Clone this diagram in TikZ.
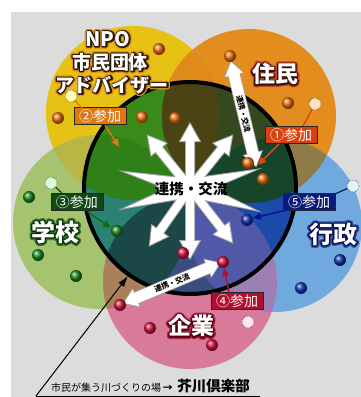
\documentclass[tikz,border=0pt]{standalone}
\usepackage{fontspec}
\newfontfamily\jp{Noto Sans CJK JP}
\usetikzlibrary{calc,arrows.meta}
\definecolor{bgray}{HTML}{DCDCDC}
\definecolor{cY}{HTML}{E6C214}
\definecolor{cO}{HTML}{E38D1F}
\definecolor{cG}{HTML}{A6C46F}
\definecolor{cB}{HTML}{70A9DD}
\definecolor{cP}{HTML}{D87B9B}
\definecolor{cYO}{HTML}{DF8A1A}
\definecolor{cOB}{HTML}{8E7B47}
\definecolor{cBP}{HTML}{9E7FB5}
\definecolor{cPG}{HTML}{A9805A}
\definecolor{cGY}{HTML}{B9B646}
\definecolor{iBase}{HTML}{1D4A44}
\definecolor{iY}{HTML}{3A8A1A}
\definecolor{iO}{HTML}{36491E}
\definecolor{iG}{HTML}{2A8272}
\definecolor{iB}{HTML}{1A4AAA}
\definecolor{iP}{HTML}{3D4C80}
\definecolor{iYO}{HTML}{4A4314}
\definecolor{iYG}{HTML}{2F8018}
\definecolor{iOB}{HTML}{17452A}
\definecolor{iBP}{HTML}{5059A8}
\definecolor{iPG}{HTML}{1C4747}
\definecolor{dotO}{HTML}{F07010}
\definecolor{dotG}{HTML}{1E8A1E}
\definecolor{dotB}{HTML}{1434B4}
\definecolor{dotR}{HTML}{D8103C}
\definecolor{tagO}{HTML}{E07812}
\definecolor{tagR}{HTML}{D8400E}
\definecolor{tagG}{HTML}{0F4A14}
\definecolor{tagB}{HTML}{0A1A7A}
\definecolor{tagP}{HTML}{B0102E}
\definecolor{glO}{HTML}{E8901A}
\definecolor{ouO}{HTML}{2A1A08}
\definecolor{glR}{HTML}{D0401A}
\definecolor{ouR}{HTML}{301008}
\definecolor{glG}{HTML}{3A7A2A}
\definecolor{ouG}{HTML}{0A300A}
\definecolor{glB}{HTML}{3050A0}
\definecolor{ouB}{HTML}{0A0A50}
\definecolor{glP}{HTML}{B02040}
\definecolor{ouP}{HTML}{500010}

% text drawn with its outline stroked (PDF text render mode 2)
\newcommand\strk[2]{\special{pdf:literal direct 1 j #1 w 2 Tr}#2\special{pdf:literal direct 0 Tr 1 w}}

\newcommand\glowtext[6]{%
  \node[text=#3,font={#5}] at (#1) {\strk{5.2}{#6}};%
  \node[text=#4,font={#5}] at (#1) {\strk{2.6}{#6}};%
  \node[text=white,font={#5}] (#2) at (#1) {#6};}

\newcommand\starshapes[1]{%
  \foreach \tx/\ty in {125/172,125/208,255/170,255/210}{%
    \path[#1] ($(C)!9pt!90:(\tx,\ty)$) -- (\tx,\ty) -- ($(C)!9pt!-90:(\tx,\ty)$) -- cycle;}%
  \foreach \tx/\ty in {190/124,190/258,148/136,232/136,150/245,232/242}{%
    \path coordinate (tp) at (\tx,\ty) coordinate (hb) at ($(tp)!17pt!(C)$);
    \path[#1] ($(C)!4pt!90:(tp)$) -- ($(hb)!4pt!90:(tp)$) -- ($(hb)!9.5pt!90:(tp)$) -- (tp) -- ($(hb)!9.5pt!-90:(tp)$) -- ($(hb)!4pt!-90:(tp)$) -- ($(C)!4pt!-90:(tp)$) -- cycle;}%
  \path[#1] (C) ellipse (33 and 12);}

\newcommand\dwarrow[3]{%
  \path coordinate (ha) at ($(#1)!13pt!(#2)$) coordinate (hz) at ($(#2)!13pt!(#1)$);
  \path[#3] (#1) -- ($(ha)!9pt!90:(#2)$) -- ($(ha)!5.5pt!90:(#2)$) -- ($(hz)!5.5pt!90:(#2)$) -- ($(hz)!9pt!90:(#2)$) -- (#2) -- ($(hz)!9pt!-90:(#2)$) -- ($(hz)!5.5pt!-90:(#2)$) -- ($(ha)!5.5pt!-90:(#2)$) -- ($(ha)!9pt!-90:(#2)$) -- cycle;}

\begin{document}
\begin{tikzpicture}[x=1pt,y=-1pt,
  odot/.style={circle,inner sep=0pt,minimum size=12pt,ball color=#1},
  pale/.style={circle,inner sep=0pt,minimum size=12pt,fill=#1,draw=black!70,densely dotted,line width=0.6pt},
  tagbox/.style={fill=#1,draw=black!85,line width=0.9pt,text=white,font=\jp\fontsize{14}{14}\selectfont,inner sep=1.5pt,minimum height=17pt,minimum width=52pt},
  tagline/.style={line width=1.2pt,draw=#1},
  tagarrow/.style={line width=1.5pt,draw=#1,-{Triangle[length=8pt,width=7pt]}}]
\useasboundingbox (0,0) rectangle (361,397);
\fill[white] (0,0) rectangle (361,397);
\coordinate (Y) at (133,113);
\coordinate (O) at (249,116);
\coordinate (G) at (100,222);
\coordinate (B) at (275,225);
\coordinate (P) at (190,282);
\coordinate (M) at (190,188);
\coordinate (C) at (190,188);
\begin{scope}
\clip (11,12) rectangle (361,397);
\fill[bgray] (11,12) rectangle (361,397);
% outer circles
\fill[cY] (Y) circle (87);
\fill[cO] (O) circle (87);
\fill[cG] (G) circle (87);
\fill[cB] (B) circle (87);
\fill[cP] (P) circle (87);
\begin{scope}\clip (Y) circle (87); \fill[cYO] (O) circle (87); \fill[cGY] (G) circle (87);\end{scope}
\begin{scope}\clip (O) circle (87); \fill[cOB] (B) circle (87);\end{scope}
\begin{scope}\clip (B) circle (87); \fill[cBP] (P) circle (87);\end{scope}
\begin{scope}\clip (P) circle (87); \fill[cPG] (G) circle (87);\end{scope}
% inner region
\begin{scope}
\clip (M) circle (106);
\fill[iBase] (M) circle (106);
\fill[iY] (Y) circle (87);
\fill[iO] (O) circle (87);
\fill[iG] (G) circle (87);
\fill[iB] (B) circle (87);
\fill[iP] (P) circle (87);
\begin{scope}\clip (Y) circle (87); \fill[iYO] (O) circle (87); \fill[iYG] (G) circle (87);\end{scope}
\begin{scope}\clip (O) circle (87); \fill[iOB] (B) circle (87);\end{scope}
\begin{scope}\clip (B) circle (87); \fill[iBP] (P) circle (87);\end{scope}
\begin{scope}\clip (P) circle (87); \fill[iPG] (G) circle (87);\end{scope}
\end{scope}
\draw[line width=4pt,black] (M) circle (106);
% star
\starshapes{draw=black!35,line width=2pt}
\starshapes{fill=white}
\node[font=\jp\bfseries\fontsize{14.5}{14.5}\selectfont,text=black] (centre) at (191,189) {連携・交流};
% double arrows
\coordinate (ua) at (231,62);
\coordinate (ub) at (256,166);
\coordinate (la) at (124,303);
\coordinate (lb) at (220,263);
\dwarrow{ua}{ub}{draw=black!35,line width=1.5pt}
\dwarrow{ua}{ub}{fill=white}
\dwarrow{la}{lb}{draw=black!35,line width=1.5pt}
\dwarrow{la}{lb}{fill=white}
\path (ua) -- node[sloped,font=\jp\bfseries\fontsize{7.5}{7.5}\selectfont,text=black] (ut) {連携・交流} (ub);
\path (la) -- node[sloped,font=\jp\bfseries\fontsize{7.5}{7.5}\selectfont,text=black] (lt) {連携・交流} (lb);
% pale circles
\node[pale=yellow!30] (p2) at (71,96) {};
\node[pale=orange!25] (p1) at (315,104) {};
\node[pale=green!15] (p3) at (51,183) {};
\node[pale=cyan!12] (p5) at (353,186) {};
\node[pale=pink!40] (p4) at (248,322) {};
% tag boxes
\node[tagbox=tagO] (t2) at (100,116) {②参加};
\node[tagbox=tagR] (t1) at (291,135) {①参加};
\node[tagbox=tagG] (t3) at (77,202) {③参加};
\node[tagbox=tagB] (t5) at (309,202) {⑤参加};
\node[tagbox=tagP] (t4) at (237,301) {④参加};
% connectors
\coordinate (e2) at (119,147);
\coordinate (e1) at (258,165);
\coordinate (e3) at (111,228);
\coordinate (e5) at (253,218);
\coordinate (e4) at (224,268);
\coordinate (s2) at (105,125);
\coordinate (s1) at (279,144);
\coordinate (s3) at (88,212);
\coordinate (s5) at (287,210);
\coordinate (s4) at (229,292);
\coordinate (q2) at (82,108);
\coordinate (q1) at (303,126);
\coordinate (q3) at (62,193);
\coordinate (q5) at (335,194);
\draw[tagline=tagO] (p2) -- (q2);
\draw[tagline=tagR] (p1) -- (q1);
\draw[tagline=tagG] (p3) -- (q3);
\draw[tagline=tagB] (p5) -- (q5);
\draw[tagarrow=tagO] (s2) -- (e2);
\draw[tagarrow=tagR!90!orange] (s1) -- (e1);
\draw[tagarrow=tagG!80!green] (s3) -- (e3);
\draw[tagarrow=tagB!80!blue] (s5) -- (e5);
\draw[tagarrow=tagP] (s4) -- (e4);
% dots
\node[odot=dotO] (o1) at (159,49) {};
\node[odot=dotO] (o2) at (58,118) {};
\node[odot=dotO] (o3) at (142,117) {};
\node[odot=dotO] (o4) at (175,118) {};
\node[odot=dotO] (o5) at (230,56) {};
\node[odot=dotO] (o6) at (288,103) {};
\node[odot=dotO] (o7) at (248,163) {};
\node[odot=dotO] (o8) at (263,179) {};
\node[odot=dotG] (g1) at (117,231) {};
\node[odot=dotG] (g2) at (38,255) {};
\node[odot=dotG] (g3) at (76,276) {};
\node[odot=dotG] (g4) at (29,197) {};
\node[odot=dotB] (b1) at (247,220) {};
\node[odot=dotB] (b2) at (340,260) {};
\node[odot=dotB] (b3) at (301,288) {};
\node[odot=dotR] (r1) at (223,262) {};
\node[odot=dotR] (r2) at (183,253) {};
\node[odot=dotR] (r3) at (120,305) {};
\node[odot=dotR] (r4) at (150,328) {};
\node[odot=dotR] (r5) at (212,345) {};
% labels
\glowtext{108,39}{lNPO}{glO}{ouO}{\jp\bfseries\fontsize{20}{20}\selectfont}{NPO}
\glowtext{110,62}{lShimin}{glO}{ouO}{\jp\bfseries\fontsize{19}{19}\selectfont}{市民団体}
\glowtext{112,85}{lAdv}{glO}{ouO}{\jp\bfseries\fontsize{19}{19}\selectfont}{アドバイザー}
\glowtext{275,74}{lRes}{glR}{ouR}{\jp\bfseries\fontsize{23}{23}\selectfont}{住民}
\glowtext{55,232}{lSch}{glG}{ouG}{\jp\bfseries\fontsize{24}{24}\selectfont}{学校}
\glowtext{333,234}{lGov}{glB}{ouB}{\jp\bfseries\fontsize{24}{24}\selectfont}{行政}
\glowtext{191,326}{lCorp}{glP}{ouP}{\jp\bfseries\fontsize{23}{23}\selectfont}{企業}
% bottom caption
\node[anchor=base west,inner sep=0pt,text=black] (cap) at (51,391)
  {\jp\fontsize{10}{10}\selectfont 市民が集う川づくりの場\,\textbf{→}\ \ \bfseries\fontsize{14.5}{14.5}\selectfont 芥川倶楽部};
\coordinate (ul) at (36,396);
\coordinate (ur) at (260,396);
\coordinate (at) at (128,276);
\draw[line width=1pt,black] (ul) -- (ur);
\draw[line width=1pt,black,-{Latex[length=11pt,width=7pt]}] (ul) -- (at);
\end{scope}
\end{tikzpicture}
\end{document}
